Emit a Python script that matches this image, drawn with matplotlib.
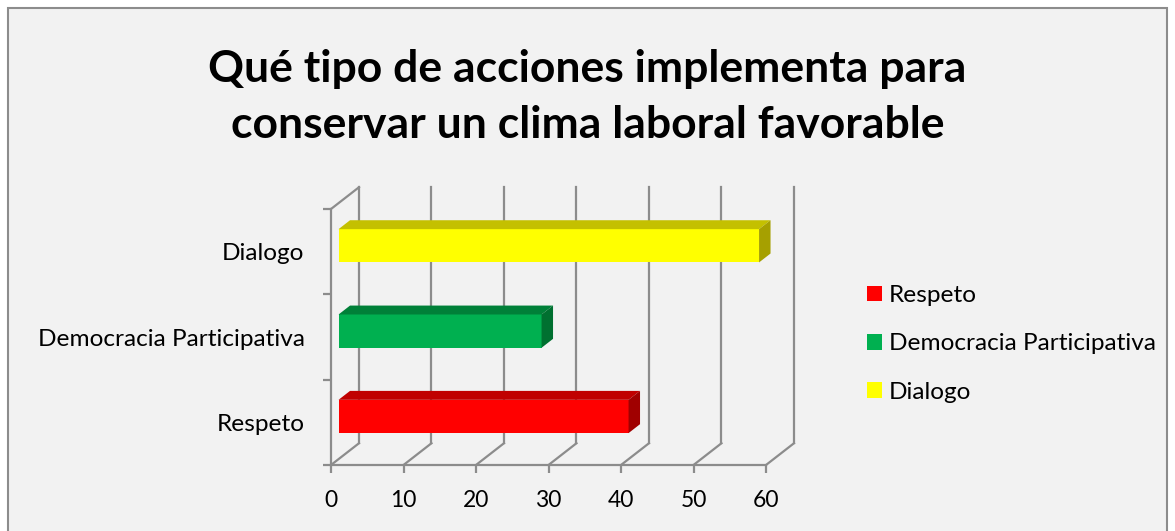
import matplotlib
matplotlib.use("Agg")
import matplotlib.pyplot as plt
from matplotlib.patches import Polygon, Rectangle, Patch

# datos
categorias = ['Respeto', 'Democracia Participativa', 'Dialogo']
valores = [40, 28, 58]
col_frente = ['#FF0000', '#00B050', '#FFFF00']
col_arriba = ['#C00000', '#008038', '#C4C000']
col_lado = ['#A00000', '#007030', '#A6A000']
xticks = [0, 10, 20, 30, 40, 50, 60]

plt.rcParams['font.family'] = ['Lato', 'DejaVu Sans']

W, H = 1175, 531
fig = plt.figure(figsize=(W / 100, H / 100), dpi=100)
fig.patch.set_facecolor('white')
fondo = Rectangle((8 / W, -0.05), 1159 / W, 1.05 - 8 / H,
                  transform=fig.transFigure, facecolor='#F2F2F2',
                  edgecolor='#8C8C8C', lw=1.5, zorder=-10)
fig.add_artist(fondo)

ax = fig.add_axes([331 / W, 1 - 465 / H, 435 / W, 256 / H])
ax.set_zorder(5)
ax.patch.set_visible(False)
ax.set_xlim(0, 60)
ax.set_ylim(-0.5, 2.5)
for s in ax.spines.values():
    s.set_visible(False)

DX, DY = 3.86, 0.255     # profundidad de la caja 3D (unidades de datos)
gris = '#8C8C8C'
lw = 1.6
y0, y1 = -0.5, 2.5

# pared de fondo y piso
for x in xticks:
    ax.plot([x, x + DX], [y0, y0 + DY], color=gris, lw=lw, clip_on=False, zorder=1)
    ax.plot([x + DX, x + DX], [y0 + DY, y1 + DY], color=gris, lw=lw, clip_on=False, zorder=1)
ax.plot([0, 60], [y0, y0], color=gris, lw=lw, clip_on=False, zorder=1)
ax.plot([0, 0], [y0, y1], color=gris, lw=lw, clip_on=False, zorder=1)
ax.plot([0, DX], [y1, y1 + DY], color=gris, lw=lw, clip_on=False, zorder=1)

# barras 3D
f0, d = 0.27, 0.41
alto = 0.39
for i, v in enumerate(valores):
    xa = f0 * DX
    yb = i - alto / 2 + f0 * DY
    yt = i + alto / 2 + f0 * DY
    ax.barh(i + f0 * DY, v, height=alto, left=xa, color=col_frente[i],
            edgecolor='none', clip_on=False, zorder=3)
    ax.add_patch(Polygon([(xa, yt), (xa + v, yt), (xa + v + d * DX, yt + d * DY),
                          (xa + d * DX, yt + d * DY)], closed=True,
                         facecolor=col_arriba[i], edgecolor='none', clip_on=False, zorder=3))
    ax.add_patch(Polygon([(xa + v, yb), (xa + v, yt), (xa + v + d * DX, yt + d * DY),
                          (xa + v + d * DX, yb + d * DY)], closed=True,
                         facecolor=col_lado[i], edgecolor='none', clip_on=False, zorder=3))

ax.set_xticks(xticks)
ax.set_xticklabels([str(t) for t in xticks])
ax.tick_params(axis='x', length=6, width=lw, color=gris, labelsize=16.5, pad=12)
ax.set_yticks(range(len(categorias)))
ax.set_yticklabels(categorias)
ax.set_yticks([-0.5, 0.5, 1.5, 2.5], minor=True)
ax.tick_params(axis='y', which='major', length=0, labelsize=17.6, pad=19)
ax.tick_params(axis='y', which='minor', length=6, width=lw, color=gris)

fig.text(0.5, 1 - 97 / H, 'Qué tipo de acciones implementa para\nconservar un clima laboral favorable',
         ha='center', va='center', fontsize=32, fontweight='bold', linespacing=1.5)

handles = [Patch(facecolor=c, edgecolor='none') for c in col_frente]
fig.legend(handles, categorias, loc='center left', bbox_to_anchor=(867 / W, 1 - 344 / H),
           frameon=False, fontsize=17.6, handlelength=0.62, handleheight=0.62,
           handletextpad=0.28, labelspacing=1.12, borderpad=0, borderaxespad=0)

fig.savefig('out.png', dpi=100, facecolor=fig.get_facecolor())
